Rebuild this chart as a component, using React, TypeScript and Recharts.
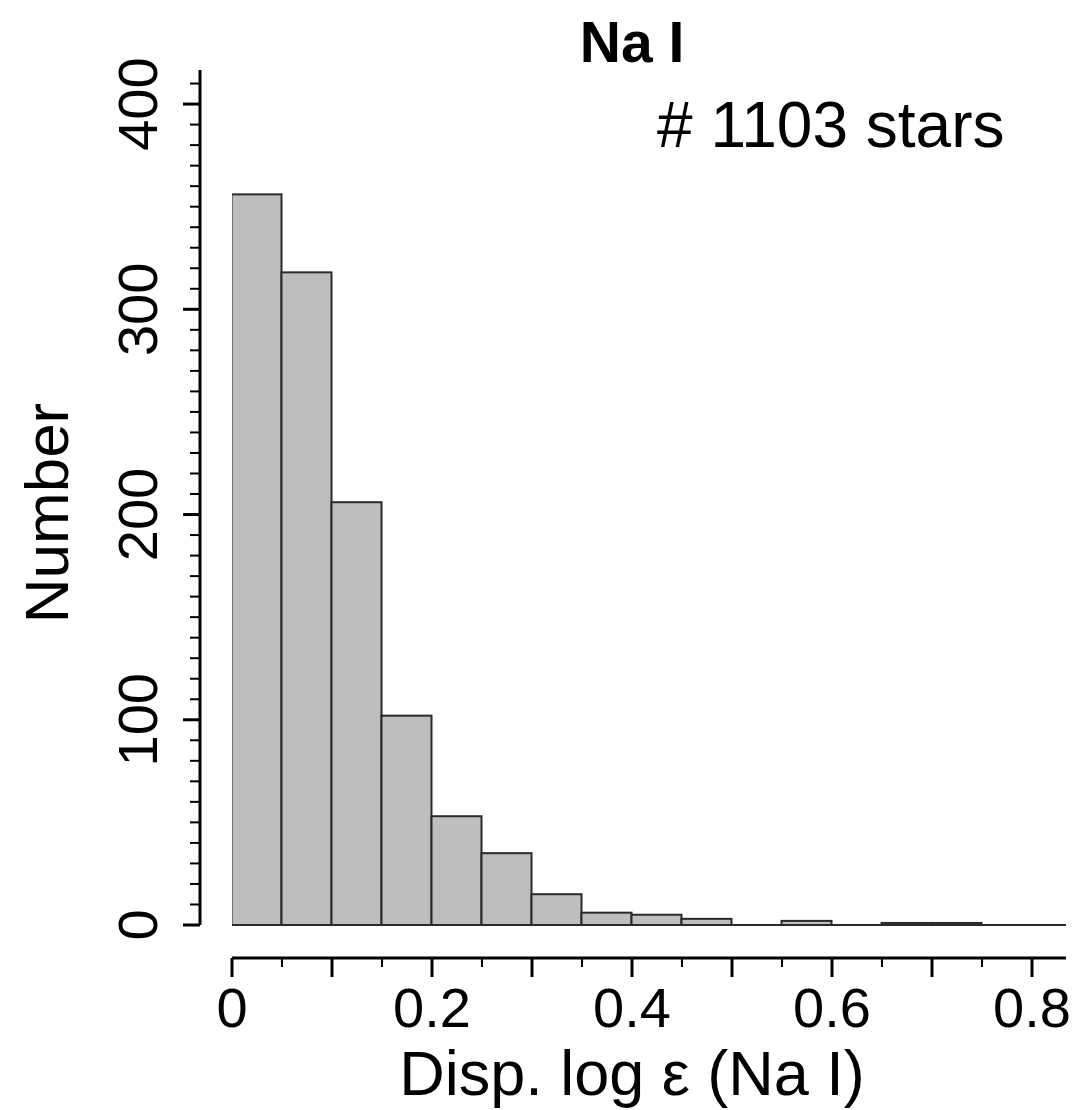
import { BarChart, Bar, XAxis, YAxis, ReferenceLine } from 'recharts'

// histogram of Na I dispersion, bins of 0.05
const binStarts = [0, 0.05, 0.1, 0.15, 0.2, 0.25, 0.3, 0.35, 0.4, 0.45, 0.5, 0.55, 0.6, 0.65, 0.7, 0.75, 0.8]
const counts = [356, 318, 206, 102, 53, 35, 15, 6, 5, 3, 0, 2, 0, 1, 1, 0, 0]
const binWidth = 0.05

const xTicks = [0, 0.05, 0.1, 0.15, 0.2, 0.25, 0.3, 0.35, 0.4, 0.45, 0.5, 0.55, 0.6, 0.65, 0.7, 0.75, 0.8]
const xLabels = [0, 0.2, 0.4, 0.6, 0.8]
const yTicks = [
  0, 10, 20, 30, 40, 50, 60, 70, 80, 90, 100, 110, 120, 130, 140, 150, 160, 170, 180, 190, 200,
  210, 220, 230, 240, 250, 260, 270, 280, 290, 300, 310, 320, 330, 340, 350, 360, 370, 380, 390, 400, 410
]
const yLabels = [0, 100, 200, 300, 400]

const title = 'Na I'
const note = '# 1103 stars'
const xTitle = 'Disp. log ε (Na I)'
const yTitle = 'Number'

const data = binStarts.map((s, i) => ({ mid: s + binWidth / 2, count: counts[i] }))

const W = 1079
const H = 1110
const PLOT_LEFT = 232
const PLOT_RIGHT = 1066
const PLOT_TOP = 70
const PLOT_BOTTOM = 925
const X_MAX = 0.834
const Y_MAX = 416.6
const Y_AXIS_X = 200
const X_AXIS_Y = 958
const FONT = '"Liberation Sans", Arial, Helvetica, sans-serif'

const plotW = PLOT_RIGHT - PLOT_LEFT
const barPx = (plotW * binWidth) / X_MAX
const yAxisOffset = ((Y_AXIS_X - PLOT_LEFT) / plotW) * X_MAX

const near = (a: number, b: number) => Math.abs(a - b) < 1e-6

// full-width histogram cell, centred on the bar recharts places
function BinShape(props: any) {
  const { x, y, width, height } = props
  if (!height) return null
  const cx = x + width / 2
  return <rect x={cx - barPx / 2} y={y} width={barPx} height={height} fill="#bebebe" stroke="#2a2a2a" strokeWidth={2} />
}

function YTick({ y, payload }: any) {
  const v = payload.value
  const major = v % 100 === 0
  const labelX = 157
  return (
    <g>
      <line x1={Y_AXIS_X - (major ? 17 : 10)} x2={Y_AXIS_X} y1={y} y2={y} stroke="#000" strokeWidth={major ? 3 : 2} />
      {yLabels.includes(v) && (
        <text x={labelX} y={y} transform={`rotate(-90, ${labelX}, ${y})`} textAnchor="middle" fontSize={56} fontFamily={FONT} fill="#000">
          {v}
        </text>
      )}
    </g>
  )
}

function XTick({ x, payload }: any) {
  const v = payload.value
  const major = near(v * 10, Math.round(v * 10))
  const labelled = xLabels.some((l) => near(l, v))
  return (
    <g>
      <line x1={x} x2={x} y1={X_AXIS_Y} y2={X_AXIS_Y + (major ? 19 : 9)} stroke="#000" strokeWidth={major ? 3 : 2} />
      {labelled && (
        <text x={x} y={1027} textAnchor="middle" fontSize={56} fontFamily={FONT} fill="#000">
          {v}
        </text>
      )}
    </g>
  )
}

export default function App() {
  return (
    <div style={{ position: 'absolute', left: 0, top: 0, width: W, height: H, background: '#fff', fontFamily: FONT }}>
      <BarChart
        width={W}
        height={H}
        data={data}
        margin={{ top: PLOT_TOP, right: W - PLOT_RIGHT, bottom: 0, left: 0 }}
        barCategoryGap={0}
        barGap={0}
      >
        <XAxis
          type="number"
          dataKey="mid"
          domain={[0, X_MAX]}
          allowDataOverflow
          ticks={xTicks}
          interval={0}
          height={H - PLOT_BOTTOM}
          axisLine={false}
          tickLine={false}
          tick={<XTick />}
        />
        <YAxis
          type="number"
          domain={[0, Y_MAX]}
          allowDataOverflow
          ticks={yTicks}
          interval={0}
          width={PLOT_LEFT}
          axisLine={false}
          tickLine={false}
          tick={<YTick />}
        />
        <ReferenceLine y={0} stroke="#2a2a2a" strokeWidth={2} />
        <Bar dataKey="count" barSize={barPx} shape={<BinShape />} isAnimationActive={false} />
        <ReferenceLine
          segment={[{ x: yAxisOffset, y: 0 }, { x: yAxisOffset, y: Y_MAX }]}
          ifOverflow="visible"
          stroke="#000"
          strokeWidth={3}
        />
        <line x1={PLOT_LEFT} x2={PLOT_RIGHT} y1={X_AXIS_Y} y2={X_AXIS_Y} stroke="#000" strokeWidth={3} />
        <text x={632} y={62} textAnchor="middle" fontSize={57} fontWeight="bold" fontFamily={FONT} fill="#000">
          {title}
        </text>
        <text x={657} y={147} fontSize={64} fontFamily={FONT} fill="#000">
          {note}
        </text>
        <text x={632} y={1095} textAnchor="middle" fontSize={63} fontFamily={FONT} fill="#000">
          {xTitle}
        </text>
        <text x={68} y={513} transform="rotate(-90, 68, 513)" textAnchor="middle" fontSize={62} fontFamily={FONT} fill="#000">
          {yTitle}
        </text>
      </BarChart>
    </div>
  )
}
